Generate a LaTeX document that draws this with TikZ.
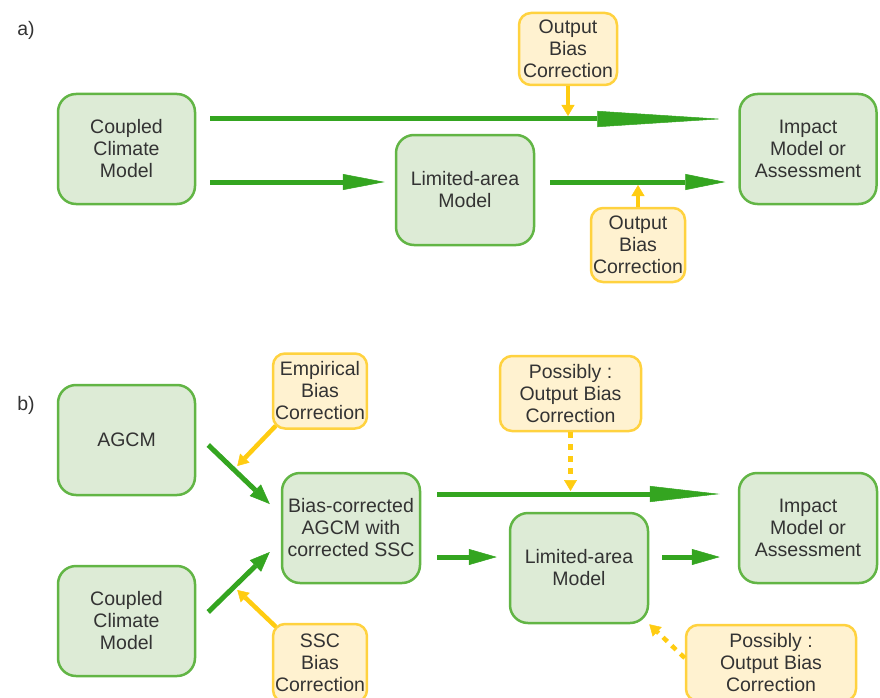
\documentclass[tikz,border=0pt]{standalone}
\usepackage{fontspec}
\setmainfont{Liberation Sans}
\usetikzlibrary{arrows.meta}
\definecolor{gfill}{HTML}{DDEBD6}
\definecolor{gline}{HTML}{62B545}
\definecolor{garr}{HTML}{34A520}
\definecolor{yfill}{HTML}{FFF2D0}
\definecolor{yline}{HTML}{FFD23F}
\definecolor{yarr}{HTML}{FFCC11}
\begin{document}
\begin{tikzpicture}[x=1pt,y=-1pt,
  every node/.style={font=\fontsize{19.5}{22}\selectfont,text=black!80},
  gbox/.style={draw=gline,fill=gfill,line width=2.5pt,rounded corners=18pt,align=center,minimum width=137pt,minimum height=110pt},
  ybox/.style={draw=yline,fill=yfill,line width=2.5pt,rounded corners=12pt,align=center,inner sep=2pt},
  garrow/.style={draw=garr,line width=5pt,-{Triangle[length=#1,width=16pt,line width=0.5pt]}},
  yarrow/.style={draw=yarr,line width=4.5pt,-{Triangle[length=11pt,width=13pt,line width=0.5pt]}},
  ydots/.style={yarrow,dash pattern=on 6pt off 6pt}]
\useasboundingbox (0,0) rectangle (880,698);

\node (lblA) at (26,30) {a)};
\node[gbox] (ccmA) at (126.5,149) {Coupled\\Climate\\Model};
\node[gbox,minimum width=138pt] (lamA) at (465,190) {Limited-area\\Model};
\node[gbox] (impA) at (808,149) {Impact\\Model or\\Assessment};
\node[ybox,minimum width=98pt,minimum height=72pt] (obcA) at (568,49) {Output\\Bias\\Correction};
\node[ybox,minimum width=94pt,minimum height=74pt] (obcB) at (638,245) {Output\\Bias\\Correction};

\draw[garrow=125pt,shorten <=14pt,shorten >=16pt] ([yshift=30pt]ccmA.east) coordinate (topA) -- (topA -| impA.west);
\draw[garrow=42pt,shorten <=14pt,shorten >=10pt] ([yshift=-33pt]ccmA.east) coordinate (midA) -- (midA -| lamA.west);
\draw[garrow=40pt,shorten <=15pt,shorten >=13pt] ([yshift=8pt]lamA.east) coordinate (rightA) -- (rightA -| impA.west);
\draw[yarrow,shorten >=3pt] (obcA.south) -- (obcA.south |- topA);
\draw[yarrow,shorten >=3pt] (obcB.north) -- (obcB.north |- rightA);

\node (lblB) at (26,405) {b)};
\node[gbox] (agcm) at (126.5,440) {AGCM};
\node[gbox] (ccmB) at (126.5,621) {Coupled\\Climate\\Model};
\node[gbox,minimum width=138pt] (bcm) at (351,528) {Bias-corrected\\AGCM with\\corrected SSC};
\node[gbox,minimum width=138pt] (lamB) at (579,568) {Limited-area\\Model};
\node[gbox,minimum width=138pt] (impB) at (808,528) {Impact\\Model or\\Assessment};
\node[ybox,minimum width=93pt,minimum height=75pt] (ebc) at (320,391) {Empirical\\Bias\\Correction};
\node[ybox,minimum width=93pt,minimum height=78pt] (sbc) at (320,663) {SSC\\Bias\\Correction};
\node[ybox,minimum width=141pt,minimum height=75pt] (pobT) at (570.5,393.5) {Possibly :\\Output Bias\\Correction};
\node[ybox,minimum width=170pt,minimum height=76pt] (pobB) at (771,663) {Possibly :\\Output Bias\\Correction};

\draw[garrow=20pt] ([shift={(12,5)}]agcm.east) -- ([shift={(-11,-24)}]bcm.west);
\draw[garrow=20pt] ([shift={(12,-9)}]ccmB.east) -- ([shift={(-11,24)}]bcm.west);
\draw[yarrow] ([shift={(4,-4)}]ebc.south west) -- ([shift={(41,26)}]agcm.east);
\draw[yarrow] ([shift={(4,4)}]sbc.north west) -- ([shift={(41,-31)}]ccmB.east);
\draw[garrow=70pt,shorten <=16pt,shorten >=18pt] ([yshift=34pt]bcm.east) coordinate (topB) -- (topB -| impB.west);
\draw[garrow=28pt,shorten <=16pt,shorten >=12pt] ([yshift=-29pt]bcm.east) coordinate (midB) -- (midB -| lamB.west);
\draw[garrow=28pt,shorten <=13pt,shorten >=18pt] ([yshift=11pt]lamB.east) coordinate (rightB) -- (rightB -| impB.west);
\draw[ydots,shorten >=3pt] (pobT.south) -- (pobT.south |- topB);
\draw[ydots] ([yshift=5pt]pobB.west) -- (lamB.south east);
\end{tikzpicture}
\end{document}
